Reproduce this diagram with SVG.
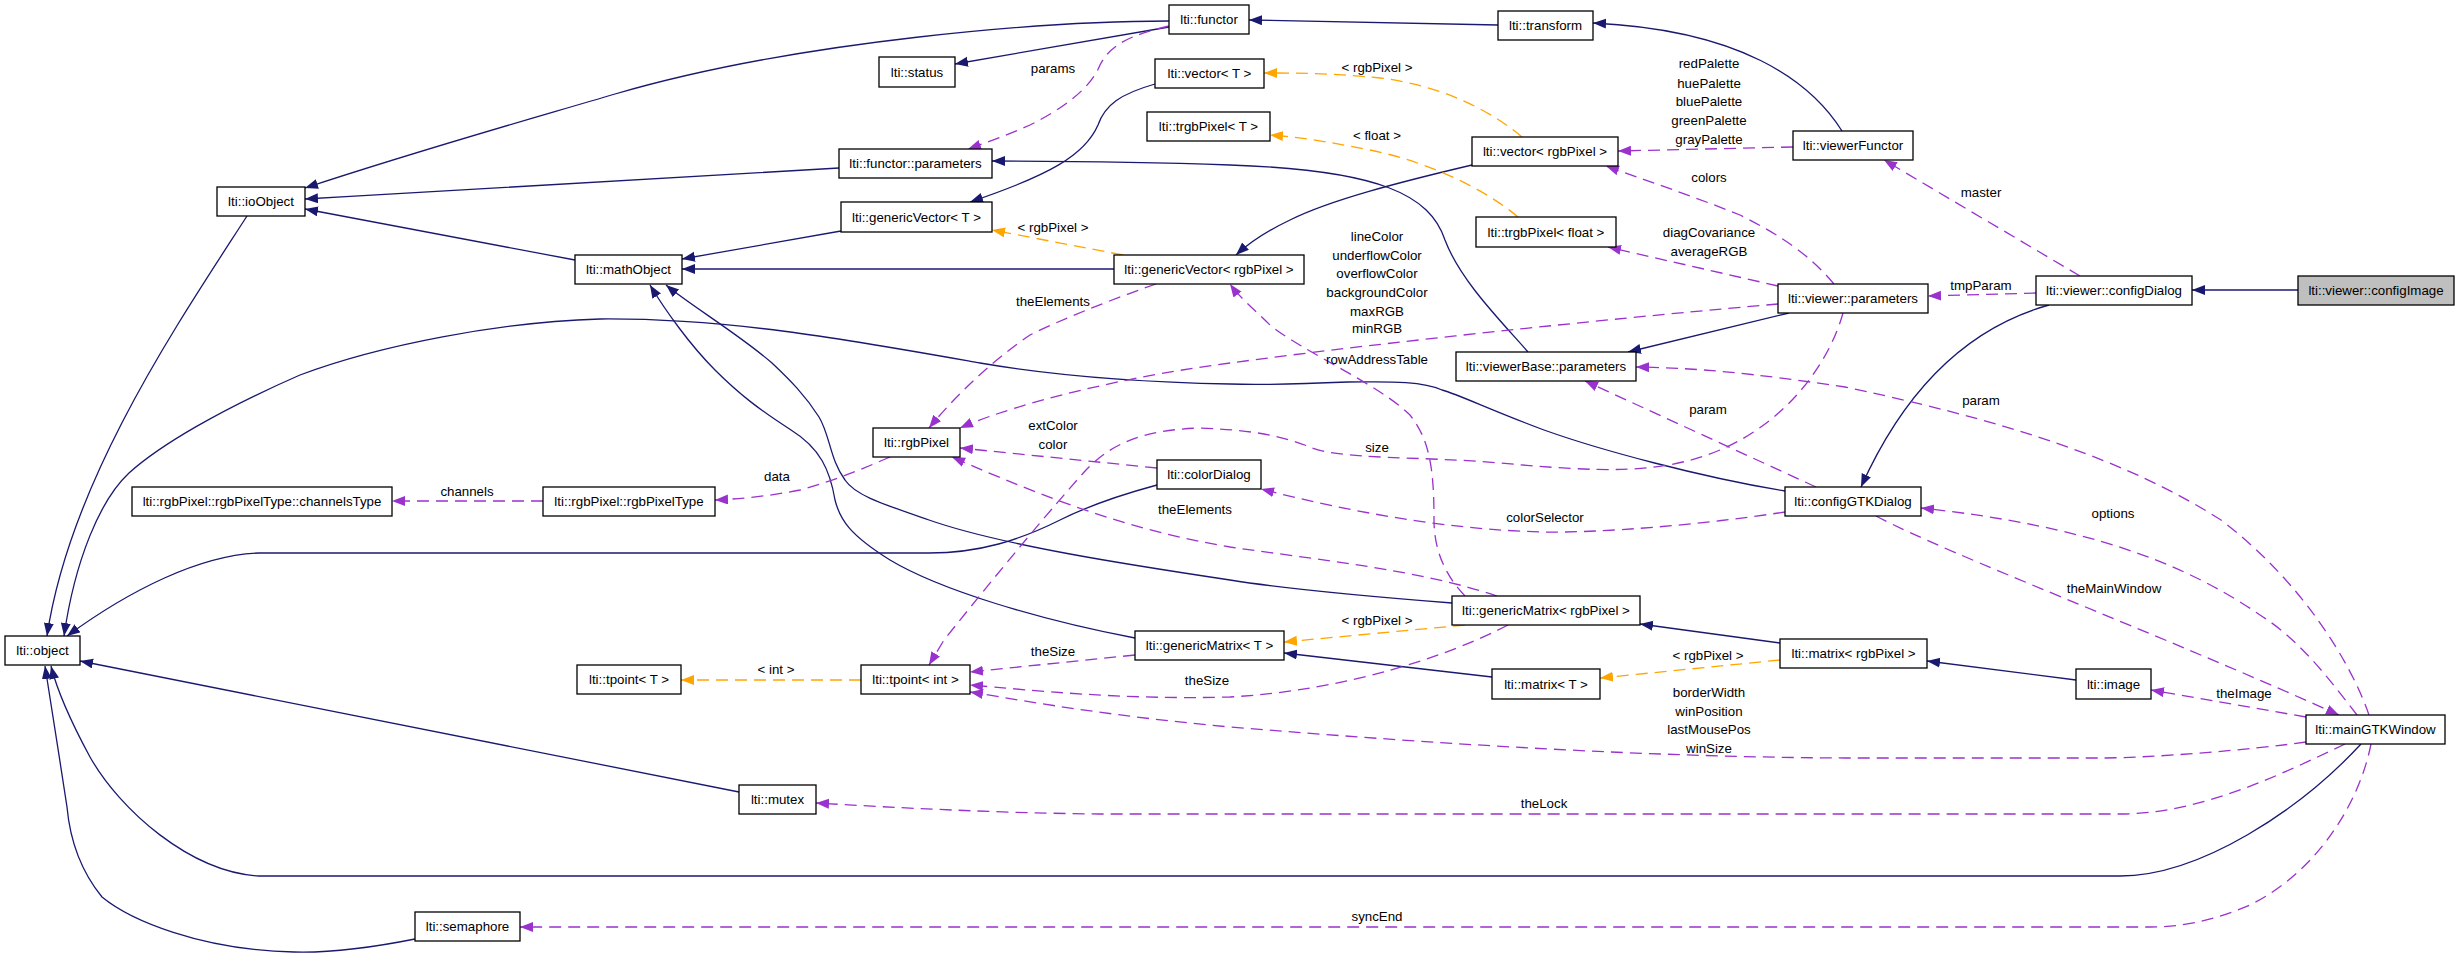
<svg xmlns="http://www.w3.org/2000/svg" width="2459" height="967" viewBox="0 0 2459 967">
<style>
.n rect{fill:#fff;stroke:#000;stroke-width:1.3}
#configImage rect{fill:#bfbfbf}
text{font-family:"Liberation Sans",Arial,Helvetica,sans-serif;font-size:13.3px;text-anchor:middle;fill:#000}
#edges path{fill:none;stroke-width:1.3}
.inh{stroke:#191970;marker-end:url(#mb)}
.use{stroke:#9a32cd;stroke-dasharray:12,7;marker-end:url(#mp)}
.tpl{stroke:#ffa500;stroke-dasharray:12,7;marker-end:url(#mo)}
</style>
<defs>
<marker id="mb" markerUnits="userSpaceOnUse" markerWidth="14" markerHeight="11" refX="13" refY="5" orient="auto"><path d="M0,0 L13,5 L0,10 z" fill="#191970"/></marker>
<marker id="mp" markerUnits="userSpaceOnUse" markerWidth="14" markerHeight="11" refX="13" refY="5" orient="auto"><path d="M0,0 L13,5 L0,10 z" fill="#9a32cd"/></marker>
<marker id="mo" markerUnits="userSpaceOnUse" markerWidth="14" markerHeight="11" refX="13" refY="5" orient="auto"><path d="M0,0 L13,5 L0,10 z" fill="#ffa500"/></marker>
</defs>
<rect width="2459" height="967" fill="#fff"/>
<g id="edges">
<path class="inh" d="M1169,21 C1050,21 800,40 615,94 C520,122 420,150 305,188"/>
<path class="inh" d="M839,168 C700,175 500,188 305,199"/>
<path class="inh" d="M575,260 L305,209"/>
<path class="inh" d="M247,216 C180,320 70,480 47,636"/>
<path class="inh" d="M841,231 L682,259"/>
<path class="inh" d="M1114,269 L682,269"/>
<path class="inh" d="M1135,638 C1040,620 940,590 890,560 C850,535 840,520 835,500 C830,470 820,448 791,430 C760,410 740,395 715,370 C690,345 665,310 650,285"/>
<path class="inh" d="M1452,603 C1350,595 1280,588 1230,580 C1130,565 1000,545 929,520 C880,503 855,495 845,480 C830,460 830,435 819,417 C805,395 790,380 772,363 C740,335 690,305 666,285"/>
<path class="inh" d="M1155,84 C1120,94 1105,105 1098,125 C1085,155 1050,175 970,202"/>
<path class="inh" d="M1472,165 C1400,182 1330,200 1290,220 C1265,232 1250,242 1236,255"/>
<path class="inh" d="M1498,25 L1249,20"/>
<path class="inh" d="M1842,131 C1810,80 1740,30 1593,23"/>
<path class="inh" d="M1169,27 L955,64"/>
<path class="inh" d="M1789,313 L1628,352"/>
<path class="inh" d="M1528,352 C1500,320 1460,280 1445,240 C1430,195 1380,170 1230,165 C1150,162 1050,161 992,161"/>
<path class="inh" d="M2298,290 L2192,290"/>
<path class="inh" d="M2049,305 C1960,330 1900,400 1861,487"/>
<path class="inh" d="M1785,491 C1700,477 1600,450 1544,430 C1490,410 1460,395 1442,390 C1420,380 1380,382 1348,382 C1300,384 1260,385 1230,384 C1130,382 1050,375 980,363 C850,340 730,318 600,319 C500,322 380,345 300,375 C220,410 160,445 129,473 C100,500 75,560 64,636"/>
<path class="inh" d="M1157,485 C1120,495 1090,505 1060,520 C1020,540 980,553 929,553 L259,553 C200,555 130,590 67,636"/>
<path class="inh" d="M2361,744 C2300,810 2200,876 2120,876 L259,876 C190,872 120,810 90,757 C70,720 57,690 51,666"/>
<path class="inh" d="M415,939 C370,948 330,953 294,952 C200,950 130,920 102,897 C80,870 70,840 67,807 C60,760 50,700 45,666"/>
<path class="inh" d="M739,792 L80,661"/>
<path class="inh" d="M1780,643 L1640,624"/>
<path class="inh" d="M2076,680 L1927,661"/>
<path class="inh" d="M1492,677 L1284,653"/>
<path class="tpl" d="M1123,255 L992,230"/>
<path class="tpl" d="M1522,137 C1490,110 1440,85 1380,78 C1330,73 1300,73 1264,73"/>
<path class="tpl" d="M1518,217 C1480,185 1420,160 1370,150 C1320,140 1295,137 1270,135"/>
<path class="tpl" d="M1465,625 L1284,642"/>
<path class="tpl" d="M861,680 L681,680"/>
<path class="tpl" d="M1780,660 L1600,678"/>
<path class="use" d="M1169,26 C1130,35 1110,45 1100,65 C1090,90 1060,110 1030,125 C1000,138 985,143 968,149"/>
<path class="use" d="M1793,147 L1618,151"/>
<path class="use" d="M1834,284 C1810,255 1780,235 1740,215 C1690,195 1650,182 1606,166"/>
<path class="use" d="M1778,286 L1608,247"/>
<path class="use" d="M1778,304 C1650,315 1400,340 1230,363 C1100,380 1000,410 960,428"/>
<path class="use" d="M1156,284 C1110,300 1060,320 1030,335 C1000,355 960,390 929,428"/>
<path class="use" d="M890,457 C860,470 830,482 800,490 C770,496 740,499 715,500"/>
<path class="use" d="M543,501 L392,501"/>
<path class="use" d="M1157,468 L960,448"/>
<path class="use" d="M1497,596 C1420,570 1320,560 1230,547 C1130,530 1050,500 952,457"/>
<path class="use" d="M1465,596 C1445,575 1434,550 1434,520 C1434,470 1430,440 1410,415 C1380,385 1300,350 1270,325 C1255,310 1240,298 1230,284"/>
<path class="use" d="M1816,487 L1585,381"/>
<path class="use" d="M2369,715 C2350,660 2300,580 2221,520 C2150,475 2050,430 1845,387 C1750,373 1700,368 1636,367"/>
<path class="use" d="M1876,516 C1950,555 2150,630 2339,715"/>
<path class="use" d="M2357,715 C2330,680 2300,640 2260,615 C2180,560 2080,525 1921,508"/>
<path class="use" d="M2306,717 L2151,690"/>
<path class="use" d="M2306,742 C2250,750 2150,758 2100,758 L1845,758 C1650,757 1450,745 1230,727 C1100,715 1020,700 970,692"/>
<path class="use" d="M1135,655 L970,672"/>
<path class="use" d="M1508,625 C1450,655 1350,690 1230,697 C1120,700 1030,690 970,685"/>
<path class="use" d="M1843,313 C1830,360 1790,420 1720,450 C1660,475 1600,472 1500,463 C1420,456 1340,460 1310,447 C1280,435 1250,430 1200,428 C1140,430 1110,445 1086,470 C1050,510 1000,570 944,640 L929,665"/>
<path class="use" d="M1785,512 C1700,525 1600,533 1544,532 C1450,530 1350,512 1261,489"/>
<path class="use" d="M2345,744 C2280,775 2200,814 2120,814 L1100,814 C1000,813 900,808 816,803"/>
<path class="use" d="M2371,744 C2360,800 2320,870 2250,905 C2210,922 2180,927 2150,927 L520,927"/>
<path class="use" d="M2080,276 L1884,160"/>
<path class="use" d="M2036,293 L1928,296"/>
</g>
<g id="labels">
<text x="1053" y="73">params</text>
<text x="1377" y="72">&lt; rgbPixel &gt;</text>
<text x="1377" y="140">&lt; float &gt;</text>
<text x="1709" y="68">redPalette</text>
<text x="1709" y="88">huePalette</text>
<text x="1709" y="106">bluePalette</text>
<text x="1709" y="125">greenPalette</text>
<text x="1709" y="144">grayPalette</text>
<text x="1709" y="182">colors</text>
<text x="1709" y="237">diagCovariance</text>
<text x="1709" y="256">averageRGB</text>
<text x="1377" y="241">lineColor</text>
<text x="1377" y="260">underflowColor</text>
<text x="1377" y="278">overflowColor</text>
<text x="1377" y="297">backgroundColor</text>
<text x="1377" y="316">maxRGB</text>
<text x="1377" y="333">minRGB</text>
<text x="1377" y="364">rowAddressTable</text>
<text x="1053" y="232">&lt; rgbPixel &gt;</text>
<text x="1053" y="306">theElements</text>
<text x="1981" y="197">master</text>
<text x="1981" y="290">tmpParam</text>
<text x="1708" y="414">param</text>
<text x="1981" y="405">param</text>
<text x="1377" y="452">size</text>
<text x="1053" y="430">extColor</text>
<text x="1053" y="449">color</text>
<text x="777" y="481">data</text>
<text x="467" y="496">channels</text>
<text x="1195" y="514">theElements</text>
<text x="1545" y="522">colorSelector</text>
<text x="2113" y="518">options</text>
<text x="2114" y="593">theMainWindow</text>
<text x="1377" y="625">&lt; rgbPixel &gt;</text>
<text x="1053" y="656">theSize</text>
<text x="776" y="674">&lt; int &gt;</text>
<text x="1207" y="685">theSize</text>
<text x="1708" y="660">&lt; rgbPixel &gt;</text>
<text x="2244" y="698">theImage</text>
<text x="1709" y="697">borderWidth</text>
<text x="1709" y="716">winPosition</text>
<text x="1709" y="734">lastMousePos</text>
<text x="1709" y="753">winSize</text>
<text x="1544" y="808">theLock</text>
<text x="1377" y="921">syncEnd</text>
</g>
<g id="object" class="n"><rect x="5" y="636" width="75" height="29"/><text x="42.5" y="655">lti::object</text></g>
<g id="ioObject" class="n"><rect x="217" y="187" width="88" height="29"/><text x="261" y="206">lti::ioObject</text></g>
<g id="mathObject" class="n"><rect x="575" y="255" width="107" height="29"/><text x="628.5" y="274">lti::mathObject</text></g>
<g id="functor" class="n"><rect x="1169" y="5" width="80" height="29"/><text x="1209" y="24">lti::functor</text></g>
<g id="status" class="n"><rect x="879" y="57" width="76" height="30"/><text x="917" y="77">lti::status</text></g>
<g id="transform" class="n"><rect x="1498" y="11" width="95" height="29"/><text x="1545.5" y="30">lti::transform</text></g>
<g id="vectorT" class="n"><rect x="1155" y="59" width="109" height="29"/><text x="1209.5" y="78">lti::vector&lt; T &gt;</text></g>
<g id="trgbPixelT" class="n"><rect x="1147" y="112" width="123" height="29"/><text x="1208.5" y="131">lti::trgbPixel&lt; T &gt;</text></g>
<g id="functorParameters" class="n"><rect x="839" y="149" width="153" height="29"/><text x="915.5" y="168">lti::functor::parameters</text></g>
<g id="genericVectorT" class="n"><rect x="841" y="202" width="151" height="30"/><text x="916.5" y="222">lti::genericVector&lt; T &gt;</text></g>
<g id="genericVectorRGB" class="n"><rect x="1114" y="255" width="190" height="29"/><text x="1209" y="274">lti::genericVector&lt; rgbPixel &gt;</text></g>
<g id="vectorRGB" class="n"><rect x="1472" y="137" width="146" height="29"/><text x="1545" y="156">lti::vector&lt; rgbPixel &gt;</text></g>
<g id="trgbPixelFloat" class="n"><rect x="1476" y="217" width="140" height="30"/><text x="1546" y="237">lti::trgbPixel&lt; float &gt;</text></g>
<g id="viewerFunctor" class="n"><rect x="1793" y="131" width="120" height="29"/><text x="1853" y="150">lti::viewerFunctor</text></g>
<g id="viewerParameters" class="n"><rect x="1778" y="284" width="150" height="29"/><text x="1853" y="303">lti::viewer::parameters</text></g>
<g id="configDialog" class="n"><rect x="2036" y="276" width="156" height="29"/><text x="2114" y="295">lti::viewer::configDialog</text></g>
<g id="configImage" class="n"><rect x="2298" y="276" width="156" height="29"/><text x="2376" y="295">lti::viewer::configImage</text></g>
<g id="viewerBaseParameters" class="n"><rect x="1456" y="352" width="180" height="29"/><text x="1546" y="371">lti::viewerBase::parameters</text></g>
<g id="rgbPixel" class="n"><rect x="873" y="428" width="87" height="29"/><text x="916.5" y="447">lti::rgbPixel</text></g>
<g id="colorDialog" class="n"><rect x="1157" y="460" width="104" height="29"/><text x="1209" y="479">lti::colorDialog</text></g>
<g id="configGTKDialog" class="n"><rect x="1785" y="487" width="136" height="29"/><text x="1853" y="506">lti::configGTKDialog</text></g>
<g id="rgbPixelType" class="n"><rect x="543" y="487" width="172" height="29"/><text x="629" y="506">lti::rgbPixel::rgbPixelType</text></g>
<g id="channelsType" class="n"><rect x="132" y="487" width="260" height="29"/><text x="262" y="506">lti::rgbPixel::rgbPixelType::channelsType</text></g>
<g id="genericMatrixRGB" class="n"><rect x="1452" y="596" width="188" height="29"/><text x="1546" y="615">lti::genericMatrix&lt; rgbPixel &gt;</text></g>
<g id="genericMatrixT" class="n"><rect x="1135" y="631" width="149" height="29"/><text x="1209.5" y="650">lti::genericMatrix&lt; T &gt;</text></g>
<g id="matrixRGB" class="n"><rect x="1780" y="639" width="147" height="29"/><text x="1853.5" y="658">lti::matrix&lt; rgbPixel &gt;</text></g>
<g id="matrixT" class="n"><rect x="1492" y="669" width="108" height="30"/><text x="1546" y="689">lti::matrix&lt; T &gt;</text></g>
<g id="tpointT" class="n"><rect x="577" y="665" width="104" height="29"/><text x="629" y="684">lti::tpoint&lt; T &gt;</text></g>
<g id="tpointInt" class="n"><rect x="861" y="665" width="109" height="29"/><text x="915.5" y="684">lti::tpoint&lt; int &gt;</text></g>
<g id="image" class="n"><rect x="2076" y="669" width="75" height="30"/><text x="2113.5" y="689">lti::image</text></g>
<g id="mainGTKWindow" class="n"><rect x="2306" y="715" width="139" height="29"/><text x="2375.5" y="734">lti::mainGTKWindow</text></g>
<g id="mutex" class="n"><rect x="739" y="785" width="77" height="29"/><text x="777.5" y="804">lti::mutex</text></g>
<g id="semaphore" class="n"><rect x="415" y="912" width="105" height="29"/><text x="467.5" y="931">lti::semaphore</text></g>
</svg>
